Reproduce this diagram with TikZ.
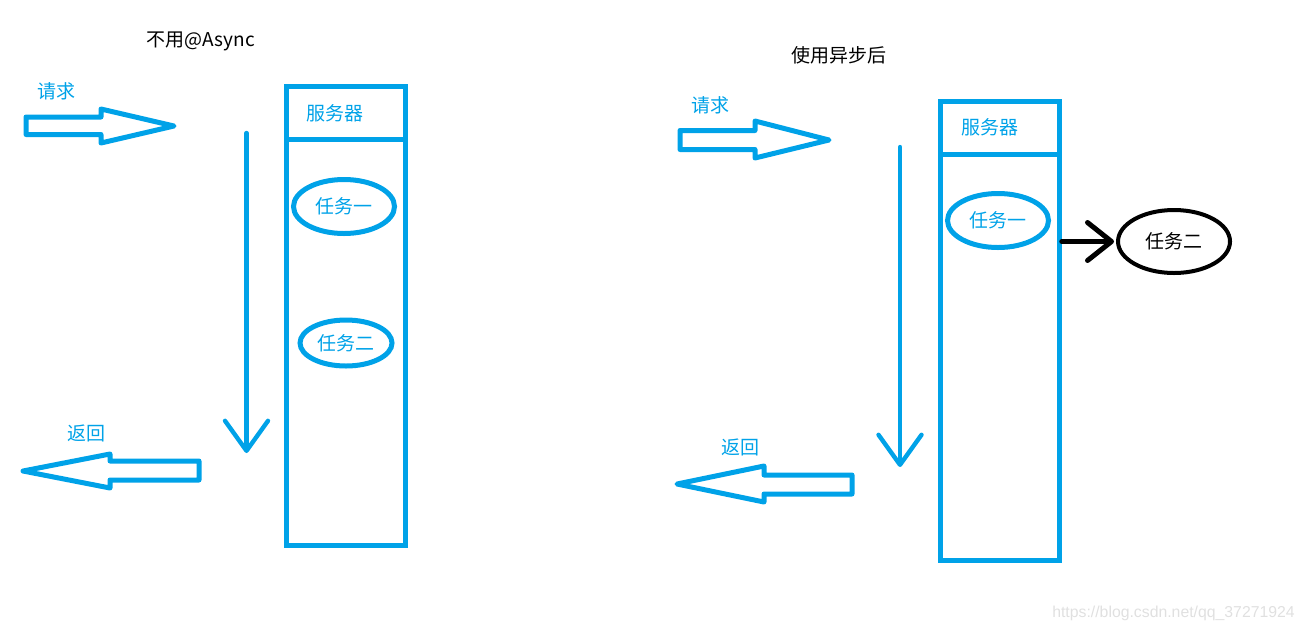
\documentclass[tikz,border=0pt]{standalone}
\usepackage{fontspec}
\setmainfont{Noto Sans CJK SC}
\newfontfamily\wmfont{Liberation Sans}
\usepackage{xcolor}
\usepackage{tikz}
\usetikzlibrary{arrows.meta, shapes.geometric}
\definecolor{paintblue}{RGB}{0,162,232}
\definecolor{wmgray}{RGB}{224,224,224}

\begin{document}
\begin{tikzpicture}[x=0.5pt, y=-0.5pt,
    every node/.style={font=\fontsize{9.5pt}{11pt}\selectfont},
    lbl/.style={text=paintblue, inner sep=0pt},
    srvbox/.style={draw=paintblue, line width=2.5pt, minimum width=59.25pt,
      minimum height=229.5pt, inner sep=0pt},
    srvhead/.style={draw=paintblue, text=paintblue, line width=2.5pt, anchor=north,
      minimum width=59.25pt, minimum height=26.5pt, text width=39pt,
      inner xsep=10.1pt, inner ysep=0pt, align=left},
    task/.style={ellipse, draw=paintblue, text=paintblue, line width=2.5pt,
      inner sep=0pt, minimum width=50.5pt, minimum height=27pt},
    blockarrow/.style={draw=paintblue, line width=2.5pt, line join=round},
    flow/.style={draw=paintblue, line width=2.2pt, line cap=round,
      -{Straight Barb[round, length=15pt, width=21.5pt]}}
  ]
  \useasboundingbox (0,0) rectangle (1304,633);

  % without @Async
  \node (titleL) at (201,41.5) {不用@Async};
  \node[lbl] (reqL) at (56,91.5) {请求};
  \draw[blockarrow] (26,117) -- (101,117) -- (101,109) -- (174,126)
    -- (101,143) -- (101,134.5) -- (26,134.5) -- cycle;
  \node[lbl] (retL) at (86,433) {返回};
  \draw[blockarrow] (199,461) -- (110,461) -- (110,454) -- (23,471)
    -- (110,488) -- (110,480) -- (199,480) -- cycle;
  \coordinate (flowLa) at (246.5,133);
  \coordinate (flowLb) at (246.5,453);
  \draw[flow] (flowLa) -- (flowLb);
  \node[srvbox] (srvL) at (345.75,316) {};
  \node[srvhead] (headL) at (srvL.north) {服务器};
  \node[task] (t1L) at (344,206.5) {任务一};
  \node[task, minimum width=46pt, minimum height=23pt] (t2L) at (346,343) {任务二};

  % with async
  \node (titleR) at (838.5,55) {使用异步后};
  \node[lbl] (reqR) at (710,105) {请求};
  \draw[blockarrow] (680,130.5) -- (755,130.5) -- (755,121) -- (829,140)
    -- (755,158) -- (755,149.5) -- (680,149.5) -- cycle;
  \node[lbl] (retR) at (740,447.5) {返回};
  \draw[blockarrow] (852,475) -- (764,475) -- (764,466) -- (677,484)
    -- (764,502) -- (764,494) -- (852,494) -- cycle;
  \coordinate (flowRa) at (900,147);
  \coordinate (flowRb) at (900,467);
  \draw[flow] (flowRa) -- (flowRb);
  \node[srvbox] (srvR) at (1000,330.75) {};
  \node[srvhead] (headR) at (srvR.north) {服务器};
  \node[task] (t1R) at (998,220.5) {任务一};
  \node[task, draw=black, text=black, line width=2pt, minimum width=56pt,
    minimum height=31.5pt] (t2R) at (1174,241.5) {任务二};
  \draw[line width=2.5pt, line cap=round, shorten >=1pt,
    -{Straight Barb[round, length=12pt, width=19pt]}]
    (srvR.east |- t2R.west) -- (t2R.west);

  \node[text=wmgray, font=\wmfont\fontsize{7.9pt}{9pt}\selectfont] (mark)
    at (1173.5,613) {https://blog.csdn.net/qq\_37271924};
\end{tikzpicture}
\end{document}
